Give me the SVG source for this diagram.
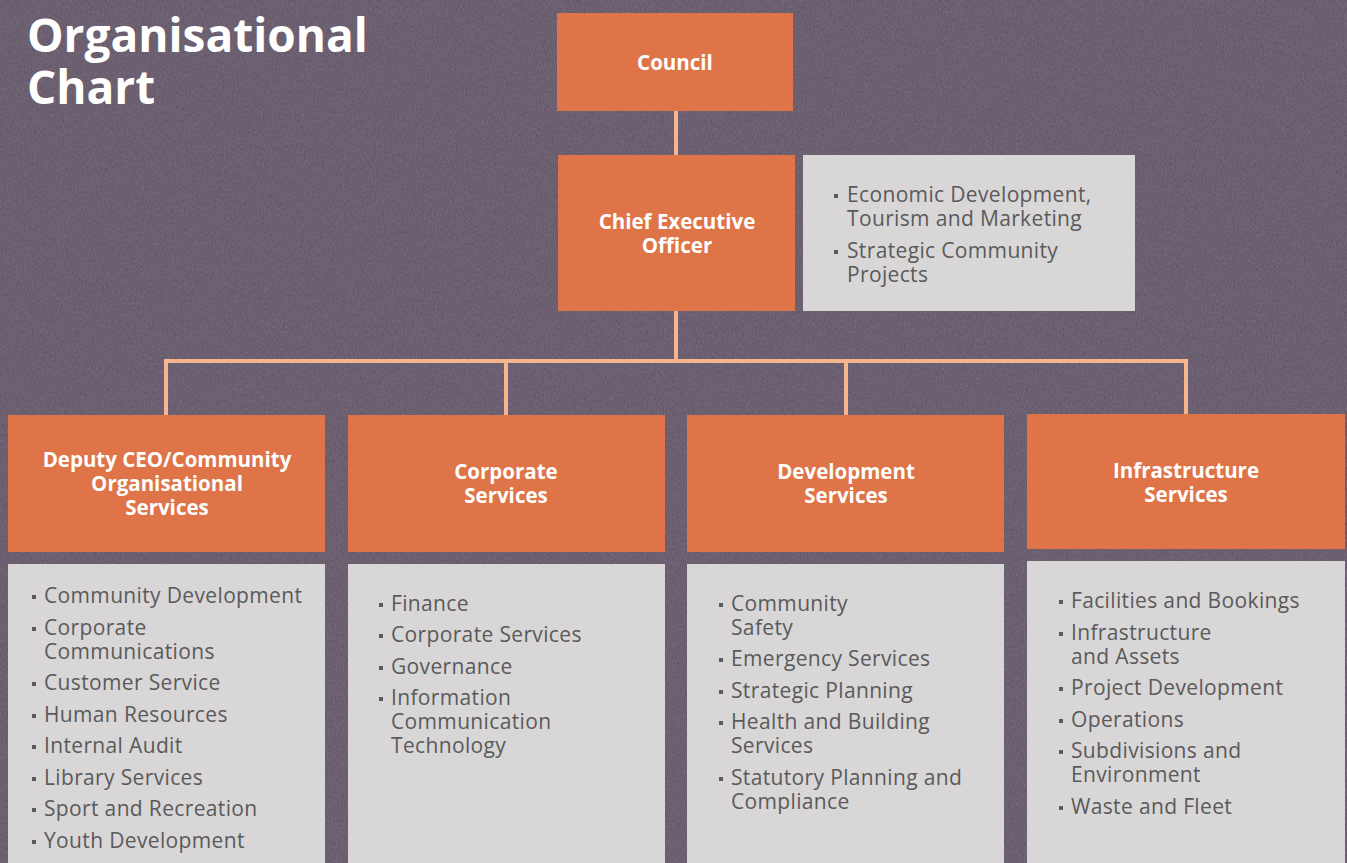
<svg xmlns="http://www.w3.org/2000/svg" width="1347" height="863" viewBox="0 0 1347 863">
<defs>
<filter id="tex" x="0" y="0" width="100%" height="100%">
<feTurbulence type="fractalNoise" baseFrequency="0.9 0.35" numOctaves="3" seed="4" result="n"/>
<feColorMatrix in="n" type="matrix" values="0 0 0 0 0.8  0 0 0 0 0.75  0 0 0 0 0.85  0 0 0 0.12 0" result="c"/>
<feComposite in="c" in2="SourceGraphic" operator="over"/>
</filter>
<style>
.hd{fill:#DE7447}
.gb{fill:#D8D6D7}
.ht{font-family:"Open Sans","Liberation Sans",sans-serif;font-weight:700;font-size:20.5px;fill:#fff;text-anchor:middle}
.bt{font-family:"Open Sans","Liberation Sans",sans-serif;font-size:21px;fill:#5a5a5a;letter-spacing:0.35px}
.bu{fill:#5a5a5a}
.ln{stroke:#F6B58C;stroke-width:4;fill:none}
</style>
</defs>
<rect width="1347" height="863" fill="#5c4e61" filter="url(#tex)"/>
<g id="title">
<text x="27" y="52" font-family="'Open Sans','Liberation Sans',sans-serif" font-weight="700" font-size="46" fill="#fff">Organisational</text>
<text x="27" y="104" font-family="'Open Sans','Liberation Sans',sans-serif" font-weight="700" font-size="46" fill="#fff">Chart</text>
</g>
<g id="connectors">
<path class="ln" d="M676 111V155"/>
<path class="ln" d="M676 311V361"/>
<path class="ln" d="M166 415V361H1186V414"/>
<path class="ln" d="M506 361V415"/>
<path class="ln" d="M846 361V415"/>
</g>
<g id="council">
<rect class="hd" x="557" y="13" width="236" height="98"/>
<text class="ht" x="675" y="70">Council</text>
</g>
<g id="ceo">
<rect class="hd" x="558" y="155" width="237" height="156"/>
<text class="ht" x="677" y="229">Chief Executive</text>
<text class="ht" x="677" y="253">Officer</text>
</g>
<g id="ceo-list">
<rect class="gb" x="803" y="155" width="332" height="156"/>
<rect class="bu" x="834" y="194" width="4" height="4"/>
<text class="bt" x="847" y="202">Economic Development,</text>
<text class="bt" x="847" y="226">Tourism and Marketing</text>
<rect class="bu" x="834" y="250" width="4" height="4"/>
<text class="bt" x="847" y="258">Strategic Community</text>
<text class="bt" x="847" y="282">Projects</text>
</g>
<g id="deputy">
<rect class="hd" x="8" y="415" width="317" height="137"/>
<text class="ht" x="167" y="467">Deputy CEO/Community</text>
<text class="ht" x="167" y="491">Organisational</text>
<text class="ht" x="167" y="515">Services</text>
</g>
<g id="deputy-list">
<rect class="gb" x="8" y="564" width="317" height="299"/>
<g class="bu">
<rect x="32" y="595" width="4" height="4"/>
<rect x="32" y="627" width="4" height="4"/>
<rect x="32" y="682" width="4" height="4"/>
<rect x="32" y="714" width="4" height="4"/>
<rect x="32" y="745" width="4" height="4"/>
<rect x="32" y="777" width="4" height="4"/>
<rect x="32" y="808" width="4" height="4"/>
<rect x="32" y="840" width="4" height="4"/>
</g>
<text class="bt" x="44" y="603">Community Development</text>
<text class="bt" x="44" y="635">Corporate</text>
<text class="bt" x="44" y="659">Communications</text>
<text class="bt" x="44" y="690">Customer Service</text>
<text class="bt" x="44" y="722">Human Resources</text>
<text class="bt" x="44" y="753">Internal Audit</text>
<text class="bt" x="44" y="785">Library Services</text>
<text class="bt" x="44" y="816">Sport and Recreation</text>
<text class="bt" x="44" y="848">Youth Development</text>
</g>
<g id="corporate">
<rect class="hd" x="348" y="415" width="317" height="137"/>
<text class="ht" x="506" y="479">Corporate</text>
<text class="ht" x="506" y="503">Services</text>
</g>
<g id="corporate-list">
<rect class="gb" x="348" y="564" width="317" height="299"/>
<g class="bu">
<rect x="379" y="603" width="4" height="4"/>
<rect x="379" y="634" width="4" height="4"/>
<rect x="379" y="666" width="4" height="4"/>
<rect x="379" y="697" width="4" height="4"/>
</g>
<text class="bt" x="391" y="611">Finance</text>
<text class="bt" x="391" y="642">Corporate Services</text>
<text class="bt" x="391" y="674">Governance</text>
<text class="bt" x="391" y="705">Information</text>
<text class="bt" x="391" y="729">Communication</text>
<text class="bt" x="391" y="753">Technology</text>
</g>
<g id="development">
<rect class="hd" x="687" y="415" width="317" height="137"/>
<text class="ht" x="846" y="479">Development</text>
<text class="ht" x="846" y="503">Services</text>
</g>
<g id="development-list">
<rect class="gb" x="687" y="564" width="317" height="299"/>
<g class="bu">
<rect x="719" y="603" width="4" height="4"/>
<rect x="719" y="658" width="4" height="4"/>
<rect x="719" y="690" width="4" height="4"/>
<rect x="719" y="721" width="4" height="4"/>
<rect x="719" y="777" width="4" height="4"/>
</g>
<text class="bt" x="731" y="611">Community</text>
<text class="bt" x="731" y="635">Safety</text>
<text class="bt" x="731" y="666">Emergency Services</text>
<text class="bt" x="731" y="698">Strategic Planning</text>
<text class="bt" x="731" y="729">Health and Building</text>
<text class="bt" x="731" y="753">Services</text>
<text class="bt" x="731" y="785">Statutory Planning and</text>
<text class="bt" x="731" y="809">Compliance</text>
</g>
<g id="infrastructure">
<rect class="hd" x="1027" y="414" width="318" height="135"/>
<text class="ht" x="1186" y="478">Infrastructure</text>
<text class="ht" x="1186" y="502">Services</text>
</g>
<g id="infrastructure-list">
<rect class="gb" x="1027" y="561" width="318" height="302"/>
<g class="bu">
<rect x="1059" y="600" width="4" height="4"/>
<rect x="1059" y="632" width="4" height="4"/>
<rect x="1059" y="687" width="4" height="4"/>
<rect x="1059" y="719" width="4" height="4"/>
<rect x="1059" y="750" width="4" height="4"/>
<rect x="1059" y="806" width="4" height="4"/>
</g>
<text class="bt" x="1071" y="608">Facilities and Bookings</text>
<text class="bt" x="1071" y="640">Infrastructure</text>
<text class="bt" x="1071" y="664">and Assets</text>
<text class="bt" x="1071" y="695">Project Development</text>
<text class="bt" x="1071" y="727">Operations</text>
<text class="bt" x="1071" y="758">Subdivisions and</text>
<text class="bt" x="1071" y="782">Environment</text>
<text class="bt" x="1071" y="814">Waste and Fleet</text>
</g>
</svg>
